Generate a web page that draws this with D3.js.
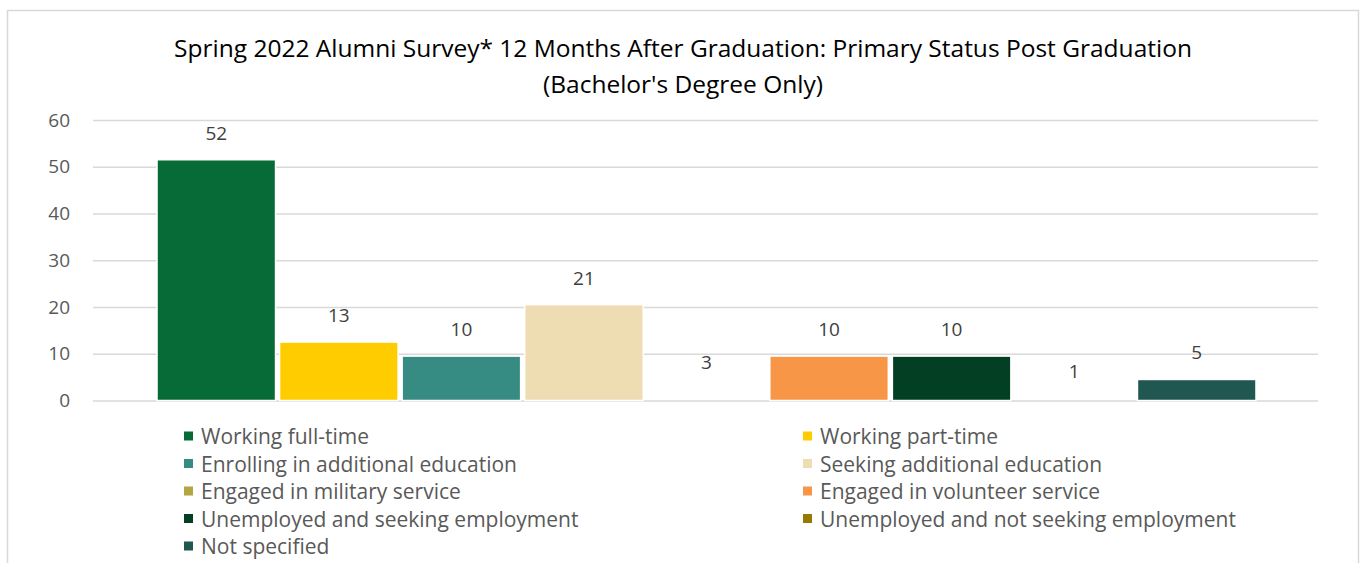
<!DOCTYPE html>
<html>
<head>
<meta charset="utf-8">
<script src="https://cdn.jsdelivr.net/npm/d3@7"></script>
<style>
  body { margin: 0; background: #fff; }
  svg { display: block; font-family: "Open Sans", Lato, sans-serif; font-variant-ligatures: none; }
</style>
</head>
<body>
<svg id="chart" width="1365" height="563"></svg>
<script>
// data (percent of respondents)
const categories = [
  'Working full-time',
  'Working part-time',
  'Enrolling in additional education',
  'Seeking additional education',
  'Engaged in military service',
  'Engaged in volunteer service',
  'Unemployed and seeking employment',
  'Unemployed and not seeking employment',
  'Not specified'
];
const values = [51.5, 12.5, 9.5, 20.5, 2.5, 9.5, 9.5, 0.5, 4.5];
const colors = ['#066b37', '#ffcc00', '#368c83', '#eedcb2', '#b2a542', '#f79646', '#033f23', '#967a00', '#205750'];
const yTicks = [0, 10, 20, 30, 40, 50, 60];
const titleLines = [
  'Spring 2022 Alumni Survey* 12 Months After Graduation: Primary Status Post Graduation',
  "(Bachelor's Degree Only)"
];
// these two bars don't show in the original, only their labels do
const hiddenBars = new Set(['Engaged in military service', 'Unemployed and not seeking employment']);

const svg = d3.select('#chart');

// chart frame
svg.append('rect')
  .attr('x', 7.5).attr('y', 10.5)
  .attr('width', 1351).attr('height', 600)
  .attr('fill', '#fff')
  .attr('stroke', '#d9d9d9')
  .attr('stroke-width', 1.5);

svg.append('g')
  .selectAll('text')
  .data(titleLines)
  .join('text')
  .attr('x', 683)
  .attr('y', (d, i) => 47 + i * 36)
  .attr('text-anchor', 'middle')
  .attr('dominant-baseline', 'central')
  .attr('font-size', 24.5)
  .attr('fill', '#000')
  .text(d => d);

const plotLeft = 93, plotRight = 1318;

const y = d3.scaleLinear().domain([0, 60]).range([400.5, 120]);
const x = d3.scaleBand()
  .domain(categories)
  .range([155, 1258])
  .paddingInner(0.033)
  .paddingOuter(0.0165);

// gridlines + tick labels
const yAxis = svg.append('g')
  .attr('transform', `translate(${plotLeft},0)`)
  .call(d3.axisLeft(y).tickValues(yTicks).tickSize(-(plotRight - plotLeft)).tickPadding(23));
yAxis.select('.domain').remove();
yAxis.selectAll('.tick line').attr('stroke', '#d9d9d9').attr('stroke-width', 1.5);
yAxis.selectAll('.tick text')
  .attr('fill', '#595959')
  .attr('font-size', 19)
  .attr('font-family', '"Open Sans", Lato, sans-serif');

// bars
svg.append('g')
  .selectAll('rect')
  .data(categories)
  .join('rect')
  .attr('x', d => x(d))
  .attr('y', (d, i) => y(values[i]))
  .attr('width', x.bandwidth())
  .attr('height', (d, i) => y(0) - y(values[i]))
  .attr('fill', (d, i) => colors[i])
  .attr('fill-opacity', d => hiddenBars.has(d) ? 0 : 1)
  .attr('stroke', '#fff')
  .attr('stroke-width', 1.5)
  .attr('stroke-opacity', d => hiddenBars.has(d) ? 0 : 1);

// data labels
svg.append('g')
  .selectAll('text')
  .data(categories)
  .join('text')
  .attr('x', d => x(d) + x.bandwidth() / 2)
  .attr('y', (d, i) => y(values[i]) - 27)
  .attr('text-anchor', 'middle')
  .attr('dominant-baseline', 'central')
  .attr('font-size', 19)
  .attr('fill', '#404040')
  .text((d, i) => Math.round(values[i]));

// legend, two columns
const legend = svg.append('g')
  .selectAll('g')
  .data(categories)
  .join('g')
  .attr('transform', (d, i) => `translate(${i % 2 ? 803 : 184},${436 + Math.floor(i / 2) * 27.5})`);

legend.append('rect')
  .attr('x', 0).attr('y', -4.5)
  .attr('width', 9).attr('height', 9)
  .attr('fill', (d, i) => colors[i]);

legend.append('text')
  .attr('x', 17)
  .attr('dominant-baseline', 'central')
  .attr('font-size', 21)
  .attr('fill', '#595959')
  .text(d => d);
</script>
</body>
</html>
